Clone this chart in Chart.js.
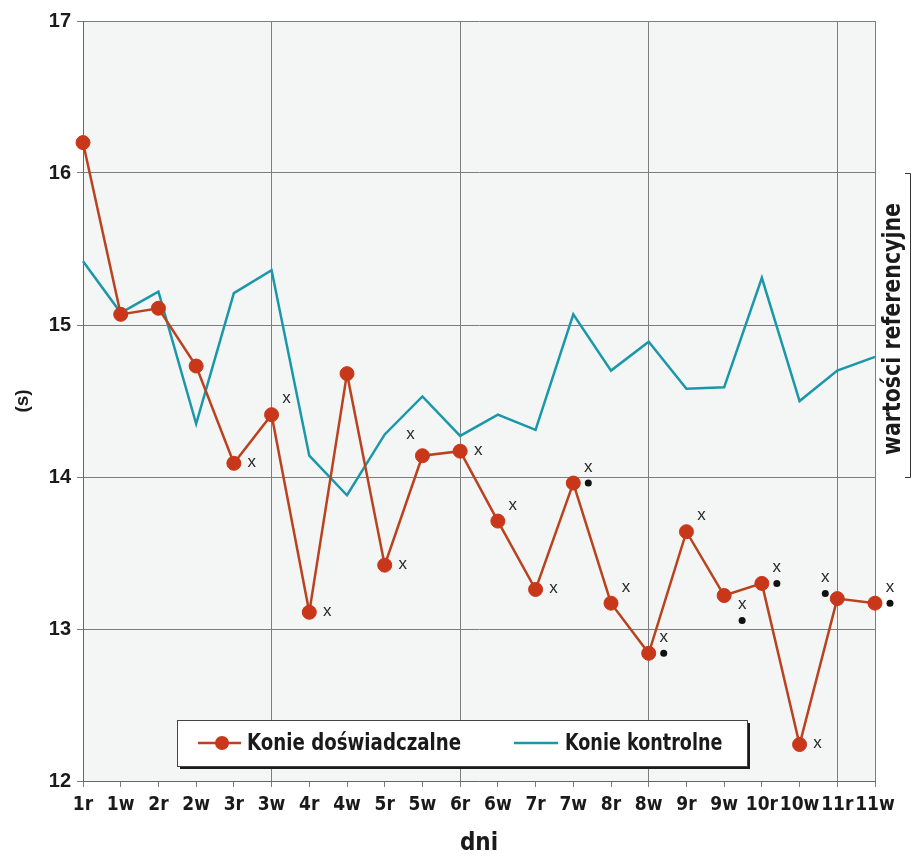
<!DOCTYPE html>
<html>
<head>
<meta charset="utf-8">
<script src="https://cdn.jsdelivr.net/npm/chart.js@4.4.0/dist/chart.umd.min.js"></script>
<style>
  html, body { margin: 0; padding: 0; background: #fff; }
</style>
</head>
<body>
<canvas id="wykres" width="919" height="858"></canvas>
<script>
        // dane
        var dni = ['1r', '1w', '2r', '2w', '3r', '3w', '4r', '4w', '5r', '5w', '6r',
                   '6w', '7r', '7w', '8r', '8w', '9r', '9w', '10r', '10w', '11r', '11w'];
        var konieDoswiadczalne = [16.20, 15.07, 15.11, 14.73, 14.09, 14.41, 13.11, 14.68, 13.42, 14.14, 14.17,
                                  13.71, 13.26, 13.96, 13.17, 12.84, 13.64, 13.22, 13.30, 12.24, 13.20, 13.17];
        var konieKontrolne = [15.42, 15.08, 15.22, 14.35, 15.21, 15.36, 14.14, 13.88, 14.28, 14.53, 14.27,
                              14.41, 14.31, 15.07, 14.70, 14.89, 14.58, 14.59, 15.31, 14.50, 14.70, 14.79];
        var skalaY = [12, 13, 14, 15, 16, 17];
        var zakresReferencyjny = [14, 16];
        // znaczniki istotnosci: 'x' i kropka (strona = gdzie stoi 'x' wzgledem punktu)
        var znakX = [0, 0, 0, 0, 'r', 'ur', 'r', 0, 'r', 'ul', 'r',
                     'ur', 'r', 'ur', 'ur', 'ur', 'ur', 'dr', 'ur', 'r', 'ul', 'ur'];
        var kropka = [0, 0, 0, 0, 0, 0, 0, 0, 0, 0, 0,
                      0, 0, 1, 0, 1, 0, 1, 1, 0, 1, 1];

        var waskie = "'Liberation Sans Narrow', 'DejaVu Sans Condensed', 'Roboto Condensed', sans-serif";
        var czerwony = '#c9371a';
        var turkus = '#1a98a9';

        var tloWykresu = {
            id: 'tloWykresu',
            beforeDraw: function (chart) {
                var a = chart.chartArea, ctx = chart.ctx;
                ctx.save();
                ctx.fillStyle = '#f4f5f5';
                ctx.fillRect(a.left, a.top, a.right - a.left, a.bottom - a.top);
                ctx.restore();
            }
        };

        var znaczniki = {
            id: 'znaczniki',
            afterDatasetsDraw: function (chart) {
                var meta = chart.getDatasetMeta(0), ctx = chart.ctx;
                var przes = { r: [18, 0], ur: [15, -15], ul: [-12, -20], dr: [18, 10] };
                ctx.save();
                ctx.font = '17px "Liberation Sans", Arial, sans-serif';
                ctx.textAlign = 'center';
                ctx.textBaseline = 'middle';
                meta.data.forEach(function (pt, i) {
                    var s = znakX[i];
                    if (!s) return;
                    var x = pt.x + przes[s][0], y = pt.y + przes[s][1];
                    ctx.fillStyle = '#2a2a2a';
                    ctx.fillText('x', x, y - 1);
                    if (kropka[i]) {
                        ctx.beginPath();
                        ctx.arc(x, y + 15, 3.5, 0, Math.PI * 2);
                        ctx.fillStyle = '#111';
                        ctx.fill();
                    }
                });
                ctx.restore();
            }
        };

        function tekstWaski(ctx, tekst, x, y, sciskanie) {
            ctx.save();
            ctx.translate(x, y);
            ctx.scale(sciskanie, 1);
            ctx.fillText(tekst, 0, 0);
            ctx.restore();
        }

        var legenda = {
            id: 'legenda',
            afterDraw: function (chart) {
                var a = chart.chartArea, ctx = chart.ctx;
                var ds = chart.data.datasets;
                var x = a.left + 94, y = a.bottom - 61, w = 570, h = 46;
                var cy = y + h / 2;
                ctx.save();
                ctx.fillStyle = '#1a1a1a';
                ctx.fillRect(x + 3, y + 3, w, h);
                ctx.fillStyle = '#fff';
                ctx.fillRect(x, y, w, h);
                ctx.strokeStyle = '#444';
                ctx.lineWidth = 1;
                ctx.strokeRect(x + 0.5, y + 0.5, w, h);

                ctx.lineWidth = 2.5;
                ctx.strokeStyle = ds[0].borderColor;
                ctx.beginPath(); ctx.moveTo(x + 21, cy); ctx.lineTo(x + 64, cy); ctx.stroke();
                ctx.beginPath(); ctx.arc(x + 45, cy, 7, 0, Math.PI * 2);
                ctx.fillStyle = ds[0].pointBackgroundColor; ctx.fill();

                ctx.strokeStyle = ds[1].borderColor;
                ctx.beginPath(); ctx.moveTo(x + 337, cy); ctx.lineTo(x + 381, cy); ctx.stroke();

                ctx.fillStyle = '#1a1a1a';
                ctx.font = 'bold 23px ' + waskie;
                ctx.textBaseline = 'middle';
                tekstWaski(ctx, ds[0].label, x + 70, cy + 1, 0.88);
                tekstWaski(ctx, ds[1].label, x + 388, cy + 1, 0.85);
                ctx.restore();
            }
        };

        var referencja = {
            id: 'referencja',
            afterDraw: function (chart) {
                var sy = chart.scales.y, ctx = chart.ctx, prawo = chart.chartArea.right;
                var gora = sy.getPixelForValue(zakresReferencyjny[1]);
                var dol = sy.getPixelForValue(zakresReferencyjny[0]);
                var xl = prawo + 35;
                ctx.save();
                ctx.strokeStyle = '#333';
                ctx.lineWidth = 1;
                ctx.beginPath();
                ctx.moveTo(xl - 5, gora + 0.5); ctx.lineTo(xl + 0.5, gora + 0.5);
                ctx.lineTo(xl + 0.5, dol + 0.5); ctx.lineTo(xl - 5, dol + 0.5);
                ctx.stroke();
                ctx.translate(prawo + 19, (gora + dol) / 2 + 4);
                ctx.rotate(-Math.PI / 2);
                ctx.fillStyle = '#1a1a1a';
                ctx.font = 'bold 24px ' + waskie;
                ctx.textAlign = 'center';
                ctx.textBaseline = 'middle';
                tekstWaski(ctx, 'wartości referencyjne', 0, 0, 0.95);
                ctx.restore();
            }
        };

        var configWykresu = {
            type: 'line',
            data: {
                labels: dni,
                datasets: [{
                    label: 'Konie doświadczalne',
                    data: konieDoswiadczalne,
                    borderColor: '#b9421f',
                    borderWidth: 2.5,
                    pointRadius: 7,
                    pointBackgroundColor: czerwony,
                    pointBorderColor: czerwony,
                    pointBorderWidth: 1,
                    tension: 0
                }, {
                    label: 'Konie kontrolne',
                    data: konieKontrolne,
                    borderColor: turkus,
                    borderWidth: 2.5,
                    pointRadius: 0,
                    tension: 0
                }]
            },
            options: {
                responsive: false,
                animation: false,
                layout: { padding: { top: 21, right: 44, left: 0, bottom: 0 } },
                plugins: {
                    legend: { display: false },
                    tooltip: { enabled: false }
                },
                scales: {
                    x: {
                        type: 'category',
                        offset: false,
                        afterFit: function (scale) { scale.height = 77; },
                        grid: {
                            offset: false,
                            color: function (c) {
                                var i = c.index;
                                return (i % 5 === 0 || i === dni.length - 1) ? '#7d7d7d' : 'rgba(0,0,0,0)';
                            },
                            tickColor: '#7d7d7d',
                            tickLength: 6
                        },
                        border: { color: '#666' },
                        ticks: {
                            autoSkip: false,
                            maxRotation: 0,
                            minRotation: 0,
                            padding: 7,
                            color: '#1a1a1a',
                            font: { family: waskie, size: 19, weight: 'bold' }
                        },
                        title: {
                            display: true,
                            text: 'dni',
                            color: '#1a1a1a',
                            font: { family: waskie, size: 24, weight: 'bold' },
                            padding: { top: 0, bottom: 0 }
                        }
                    },
                    y: {
                        min: skalaY[0],
                        max: skalaY[skalaY.length - 1],
                        afterFit: function (scale) { scale.width = 83; },
                        grid: { color: '#7d7d7d', tickColor: '#7d7d7d', tickLength: 6 },
                        border: { color: '#666' },
                        ticks: {
                            stepSize: 1,
                            padding: 6,
                            color: '#1a1a1a',
                            font: { family: "'Liberation Sans', Arial, sans-serif", size: 20, weight: 'bold' }
                        },
                        title: {
                            display: true,
                            text: '(s)',
                            color: '#1a1a1a',
                            font: { family: "'Liberation Sans', Arial, sans-serif", size: 19, weight: 'bold' },
                            padding: { top: 11, bottom: 0 }
                        }
                    }
                }
            },
            plugins: [tloWykresu, znaczniki, legenda, referencja]
        };

        var wykres = new Chart(document.getElementById('wykres'), configWykresu);
</script>
</body>
</html>
